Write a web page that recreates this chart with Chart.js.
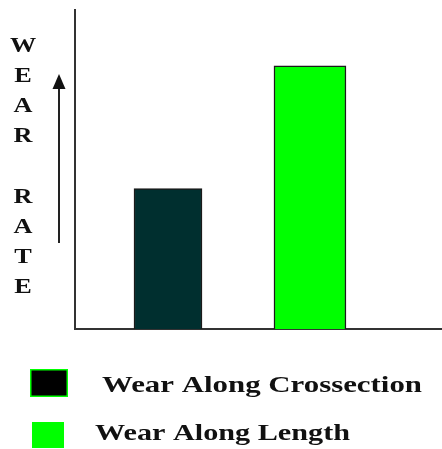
<!DOCTYPE html>
<html>
<head>
<meta charset="utf-8">
<script src="https://cdn.jsdelivr.net/npm/chart.js@4/dist/chart.umd.min.js"></script>
<style>
  html, body { margin: 0; padding: 0; background: #fff; }
  #wrap { width: 442px; height: 449px; position: relative; }
</style>
</head>
<body>
<div id="wrap"><canvas id="c"></canvas></div>
<script>
// Series names and their bar heights (relative wear rate, axis runs 0..10)
const seriesNames = ['Wear Along Crossection', 'Wear Along Length'];
const seriesValues = [4.4, 8.25];
// Where each bar sits along the horizontal axis
const seriesPositions = [1, 2];
const axisTitle = 'WEAR RATE';

const barFills = ['#002f2f', '#00ff00'];
const swatchFills = ['#000000', '#00ff00'];
const swatchBorders = ['#00ff00', '#00ff00'];

const serif = '"Liberation Serif", "Times New Roman", serif';

// Draw text with a horizontal stretch; align is 'left' or 'center'
function wideText(ctx, text, x, y, sx, align) {
  ctx.save();
  const w = ctx.measureText(text).width * sx;
  const left = align === 'center' ? x - w / 2 : x;
  ctx.translate(left, y);
  ctx.scale(sx, 1);
  ctx.textAlign = 'left';
  ctx.fillText(text, 0, 0);
  ctx.restore();
}

const decorations = {
  id: 'decorations',
  afterDraw(chart) {
    const ctx = chart.ctx;
    ctx.save();
    // stacked vertical axis caption
    ctx.fillStyle = '#111';
    ctx.font = 'bold 21px ' + serif;
    ctx.textBaseline = 'alphabetic';
    axisTitle.split('').forEach((ch, i) => {
      if (ch !== ' ') wideText(ctx, ch, 23, 51.5 + i * 30.2, 1.25, 'center');
    });
    // upward arrow beside the caption
    ctx.strokeStyle = '#222';
    ctx.lineWidth = 2;
    ctx.beginPath();
    ctx.moveTo(59, 243);
    ctx.lineTo(59, 86);
    ctx.stroke();
    ctx.fillStyle = '#111';
    ctx.beginPath();
    ctx.moveTo(59, 74);
    ctx.lineTo(52.5, 89);
    ctx.lineTo(65.5, 89);
    ctx.closePath();
    ctx.fill();
    // legend
    const rows = [
      { box: [30, 369, 38, 28], textX: 102, base: 392, width: 320 },
      { box: [32, 422, 32, 26], textX: 95, base: 440, width: 255 }
    ];
    ctx.font = 'bold 23px ' + serif;
    chart.data.datasets.forEach((ds, i) => {
      const r = rows[i];
      ctx.fillStyle = swatchFills[i];
      ctx.fillRect(r.box[0], r.box[1], r.box[2], r.box[3]);
      ctx.strokeStyle = swatchBorders[i];
      ctx.lineWidth = 1.5;
      ctx.strokeRect(r.box[0] + 0.75, r.box[1] + 0.75, r.box[2] - 1.5, r.box[3] - 1.5);
      ctx.fillStyle = '#111';
      const sx = r.width / ctx.measureText(ds.label).width;
      wideText(ctx, ds.label, r.textX, r.base, sx, 'left');
    });
    ctx.restore();
  }
};

new Chart(document.getElementById('c'), {
  type: 'bar',
  data: {
    datasets: seriesNames.map((name, i) => ({
      label: name,
      data: [{ x: seriesPositions[i], y: seriesValues[i] }],
      backgroundColor: barFills[i],
      borderColor: '#1a1a1a',
      borderWidth: 1.5,
      barThickness: i === 0 ? 68 : 72,
      grouped: false
    }))
  },
  options: {
    responsive: true,
    maintainAspectRatio: false,
    animation: false,
    layout: { padding: { left: 75, top: 10, right: 0, bottom: 120 } },
    plugins: { legend: { display: false }, tooltip: { enabled: false } },
    scales: {
      x: {
        type: 'linear',
        min: 0.345,
        max: 2.93,
        offset: false,
        grid: { display: false, drawTicks: false },
        ticks: { display: false },
        border: { display: true, color: '#333', width: 2 }
      },
      y: {
        min: 0,
        max: 10,
        grid: { display: false, drawTicks: false },
        ticks: { display: false },
        border: { display: true, color: '#333', width: 2 }
      }
    }
  },
  plugins: [decorations]
});
</script>
</body>
</html>
